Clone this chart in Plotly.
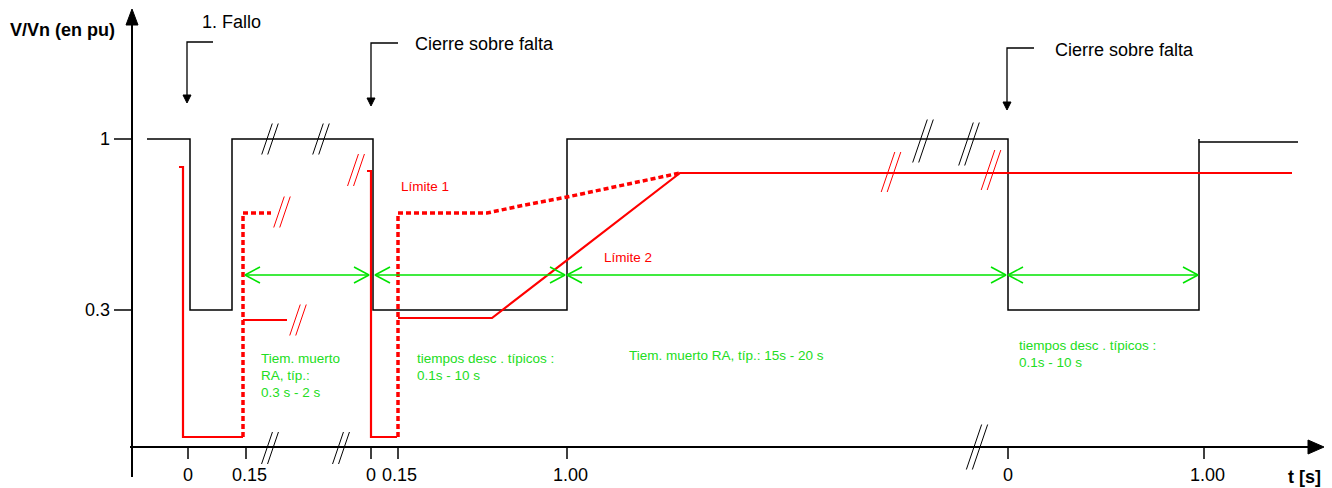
import plotly.graph_objects as go

W, H = 1332, 488
PAGE_OFFSET = 8  # default body margin of the html page
FONT = "Arial, Liberation Sans, sans-serif"
RED = "#ff0000"
GREEN = "#00e400"
GREEN_TXT = "#22dd22"

# ---------------- data (diagram units: x to the right, y downward) ----------------
# axes
yaxis_x = [132, 132]
yaxis_y = [477, 25]
xaxis_x = [130, 1308]
xaxis_y = [447, 447]

# x tick positions and labels
xtick_pos = [188, 246, 371, 398, 567, 1008, 1204]
xlabel_pos = [188, 249, 371, 399, 570, 1008, 1207]
xtick_text = ["0", "0.15", "0", "0.15", "1.00", "0", "1.00"]
# y ticks (voltage levels 1 pu and 0.3 pu)
ytick_pos = [139, 310]
ytick_text = ["1", "0.3"]

# black voltage curve V/Vn
volt_x = [147, 190, 190, 232, 232, 373, 373, 567, 567, 1008, 1008, 1199, 1199, 1199, 1298]
volt_y = [139, 139, 310, 310, 139, 139, 310, 310, 139, 139, 310, 310, 139, 142, 142]

# red limits around first fault
red1_x = [179, 183, 183, 243]
red1_y = [167, 167, 437, 437]
red1_dot_x = [243, 243, 271]
red1_dot_y = [437, 213, 213]
red1_low_x = [243, 287]
red1_low_y = [320, 320]

# red limits after reclosing onto fault
red2_x = [367, 371, 371, 397]
red2_y = [171, 171, 437, 437]
lim1_x = [398, 398, 487, 520, 567, 620, 680]
lim1_y = [437, 213, 213, 206, 197, 186, 173]
lim2_x = [398, 492, 680, 1292]
lim2_y = [318, 318, 173, 173]

# green time-span arrows (start, end) at one height
span_y = 275
span_start = [245, 375, 567, 1008]
span_end = [369, 565, 1006, 1198]

# break marks "//": centre x, centre y, height, colour
brk_x = [270, 321, 923, 969, 356, 282, 298, 891, 991, 270, 341, 977]
brk_y = [139, 139, 141, 144, 170, 212, 320, 172, 170, 448, 448, 447]
brk_h = [31, 31, 43, 43, 32, 31, 31, 40, 40, 32, 32, 45]
brk_c = ["black", "black", "black", "black", RED, RED, RED, RED, RED,
         "black", "black", "black"]

# event pointers: text, text x, text y, elbow start x, arrow x, elbow y, tip y
ev_text = ["1. Fallo", "Cierre sobre falta", "Cierre sobre falta"]
ev_tx = [200, 413, 1053]
ev_ty = [22, 44, 50]
ev_x0 = [213, 398, 1034]
ev_x1 = [187, 371, 1007]
ev_y0 = [42, 43, 48]
ev_tip = [103, 106, 110]

# green descriptions (one entry per text line)
g_text = ["Tiem. muerto", "RA, típ.:", "0.3 s - 2 s",
          "tiempos desc . típicos :", "0.1s - 10 s",
          "Tiem. muerto RA, típ.: 15s - 20 s",
          "tiempos desc . típicos :", "0.1s - 10 s"]
g_x = [259, 259, 259, 415, 415, 627, 1017, 1017]
g_y = [358, 375, 392, 358, 375, 355, 345, 362]

# red labels
r_text = ["Límite 1", "Límite 2"]
r_x = [399, 602]
r_y = [186, 257]

# ---------------- figure ----------------
fig = go.Figure()

def line(x, y, color, width, dash=None):
    fig.add_trace(go.Scatter(x=x, y=y, mode="lines", hoverinfo="skip",
                             line=dict(color=color, width=width, dash=dash)))

def tri(x, y, color):
    fig.add_trace(go.Scatter(x=x, y=y, mode="lines", fill="toself", fillcolor=color,
                             hoverinfo="skip", line=dict(color=color, width=1)))

# axes
line(yaxis_x, yaxis_y, "black", 2)
tri([126, 132, 138, 126], [25, 9, 25, 25], "black")
line(xaxis_x, xaxis_y, "black", 2)
tri([1308, 1324, 1308, 1308], [440, 447, 454, 440], "black")
for xp in xtick_pos:
    line([xp, xp], [447, 459], "black", 1.5)
for yp in ytick_pos:
    line([114, 132], [yp, yp], "black", 1.5)

# curves
line(volt_x, volt_y, "black", 1.5)
line(red1_x, red1_y, RED, 2.2)
line(red1_low_x, red1_low_y, RED, 2.2)
line(red2_x, red2_y, RED, 2.2)
line(lim2_x, lim2_y, RED, 2.2)
line(red1_dot_x, red1_dot_y, RED, 3.5, "5px,3px")
line(lim1_x, lim1_y, RED, 3.5, "5px,3px")

# green spans
for s, e in zip(span_start, span_end):
    line([s, e], [span_y, span_y], GREEN, 1.5)
    line([s + 15, s, s + 15], [span_y - 8, span_y, span_y + 8], GREEN, 1.5)
    line([e - 15, e, e - 15], [span_y - 8, span_y, span_y + 8], GREEN, 1.5)

# break marks
for cx, cy, h, c in zip(brk_x, brk_y, brk_h, brk_c):
    dx = h * 0.17
    for off in (-3, 3):
        line([cx + off - dx, cx + off + dx], [cy + h / 2, cy - h / 2], c, 1)

# event pointers
for x0, x1, y0, tip in zip(ev_x0, ev_x1, ev_y0, ev_tip):
    line([x0, x1, x1], [y0, y0, tip - 7], "black", 1.3)
    tri([x1 - 4, x1, x1 + 4, x1 - 4], [tip - 8, tip, tip - 8, tip - 8], "black")

annos = []
for t, x, y in zip(ev_text, ev_tx, ev_ty):
    annos.append(dict(text=t, x=x, y=y, xanchor="left", yanchor="middle",
                      font=dict(size=18, color="black", family=FONT)))
for t, x, y in zip(g_text, g_x, g_y):
    annos.append(dict(text=t, x=x, y=y, xanchor="left", yanchor="middle", align="left",
                      font=dict(size=13.5, color=GREEN_TXT, family=FONT)))
for t, x, y in zip(r_text, r_x, r_y):
    annos.append(dict(text=t, x=x, y=y, xanchor="left", yanchor="middle",
                      font=dict(size=13.5, color=RED, family=FONT)))
for t, x in zip(xtick_text, xlabel_pos):
    annos.append(dict(text=t, x=x, y=475, xanchor="center", yanchor="middle",
                      font=dict(size=18, color="black", family=FONT)))
for t, y in zip(ytick_text, ytick_pos):
    annos.append(dict(text=t, x=112, y=y, xanchor="right", yanchor="middle",
                      font=dict(size=18, color="black", family=FONT)))
annos.append(dict(text="<b>V/Vn (en pu)</b>", x=8, y=30, xanchor="left", yanchor="middle",
                  font=dict(size=18, color="black", family=FONT)))
annos.append(dict(text="<b>t [s]</b>", x=1323, y=477, xanchor="right", yanchor="middle",
                  font=dict(size=18, color="black", family=FONT)))
for a in annos:
    a.update(showarrow=False, xref="x", yref="y")

fig.update_layout(
    width=W, height=H, margin=dict(l=0, r=0, t=0, b=0),
    paper_bgcolor="white", plot_bgcolor="white", showlegend=False,
    xaxis=dict(range=[PAGE_OFFSET, W + PAGE_OFFSET], visible=False, fixedrange=True),
    yaxis=dict(range=[H + PAGE_OFFSET, PAGE_OFFSET], visible=False, fixedrange=True),
    annotations=annos,
)
fig.write_html("out.html")
